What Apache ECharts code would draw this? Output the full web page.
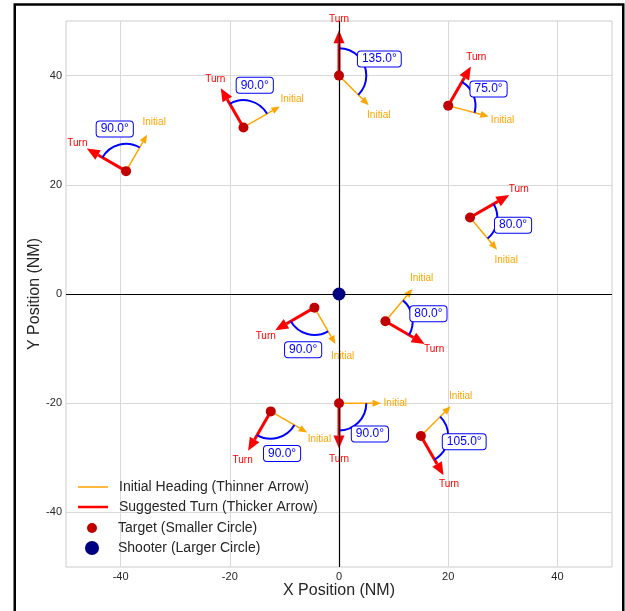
<!DOCTYPE html>
<html>
<head>
<meta charset="utf-8">
<script src="https://cdn.jsdelivr.net/npm/echarts@6/dist/echarts.min.js"></script>
<style>
  html, body { margin: 0; padding: 0; background: #fff; }
  #chart { width: 625px; height: 611px; }
</style>
</head>
<body>
<div id="chart"></div>
<script>
// Target positions (NM)
const targetX = [0, -17.5, -39, 20, 24, -4.5, 8.5, -12.5, 0, 15];
const targetY = [40, 30.5, 22.5, 34.5, 14, -2.5, -5, -21.5, -20, -26];
// Current heading of each target (degrees, counter-clockwise from +X)
const initialHeading = [-45, 30, 60, -15, -50, -60, 50, -30, 0, 45];
// Suggested turn for each target (degrees, + = left / counter-clockwise)
const turnAngle = [135, 90, 90, 75, 80, -90, -80, -90, -90, -105];
// Shooter position
const shooterPos = [0, 0];
// Axis tick labels
const tickValues = [-40, -20, 0, 20, 40];

// Geometry in data units
const INITIAL_LEN = 7.7;
const TURN_LEN = 8.3;
const WORD_DIST = 10.3;
const ARC_R = 5;
const ANGLE_LABEL_DIST = 8;

const FONT = '"Liberation Sans", Arial, sans-serif';
const TEXT_COLOR = '#262626';

const initialData = targetX.map((x, i) => [x, targetY[i], initialHeading[i]]);
const turnData = targetX.map((x, i) => [x, targetY[i], initialHeading[i] + turnAngle[i]]);
const angleData = targetX.map((x, i) => [x, targetY[i], initialHeading[i], turnAngle[i]]);
const targetData = targetX.map((x, i) => [x, targetY[i]]);

function makeArrow(len, lineWidth, headLen, headW, color, word) {
  return function (params, api) {
    const x = api.value(0), y = api.value(1);
    const h = api.value(2) * Math.PI / 180;
    const p0 = api.coord([x, y]);
    const p1 = api.coord([x + len * Math.cos(h), y + len * Math.sin(h)]);
    const pw = api.coord([x + WORD_DIST * Math.cos(h), y + WORD_DIST * Math.sin(h)]);
    const dx = p1[0] - p0[0], dy = p1[1] - p0[1];
    const d = Math.hypot(dx, dy);
    const ux = dx / d, uy = dy / d;
    const bx = p1[0] - ux * headLen, by = p1[1] - uy * headLen;
    return {
      type: 'group',
      children: [
        { type: 'line', shape: { x1: p0[0], y1: p0[1], x2: bx, y2: by },
          style: { stroke: color, lineWidth: lineWidth } },
        { type: 'polygon',
          shape: { points: [p1, [bx - uy * headW / 2, by + ux * headW / 2], [bx + uy * headW / 2, by - ux * headW / 2]] },
          style: { fill: color } },
        { type: 'text', x: pw[0], y: pw[1],
          style: { text: word, fill: color, font: '10px ' + FONT, align: 'center', verticalAlign: 'middle' } }
      ]
    };
  };
}

function renderAngle(params, api) {
  const x = api.value(0), y = api.value(1);
  const a0 = api.value(2), turn = api.value(3);
  const a1 = a0 + turn;
  const c = api.coord([x, y]);
  const r = api.size([ARC_R, 0])[0];
  const mid = (a0 + turn / 2) * Math.PI / 180;
  const pl = api.coord([x + ANGLE_LABEL_DIST * Math.cos(mid), y + ANGLE_LABEL_DIST * Math.sin(mid)]);
  return {
    type: 'group',
    children: [
      { type: 'arc',
        shape: { cx: c[0], cy: c[1], r: r,
                 startAngle: -a0 * Math.PI / 180, endAngle: -a1 * Math.PI / 180,
                 clockwise: turn < 0 },
        style: { stroke: '#0000ff', lineWidth: 2, fill: 'none' } },
      { type: 'text', x: pl[0], y: pl[1], z2: 10,
        style: { text: Math.abs(turn).toFixed(1) + '°', fill: '#0000ff', font: '12px ' + FONT,
                 align: 'center', verticalAlign: 'middle',
                 backgroundColor: '#ffffff', borderColor: '#0000ff', borderWidth: 1,
                 borderRadius: 3, padding: [2, 4, 1, 4] } }
    ]
  };
}

function axisCfg(name, gap) {
  return {
    type: 'value', min: -50, max: 50,
    name: name, nameLocation: 'middle', nameGap: gap, nameMoveOverlap: false,
    nameTextStyle: { fontSize: 16, color: TEXT_COLOR, fontFamily: FONT },
    axisLine: { show: false, onZero: false },
    axisTick: { show: false, customValues: tickValues },
    axisLabel: { customValues: tickValues, fontSize: 11, color: TEXT_COLOR, fontFamily: FONT, margin: 4 },
    splitLine: { show: true, lineStyle: { color: '#d9d9d9', width: 1 } }
  };
}

function legendCfg(name, icon, h, left, top) {
  return {
    data: [{ name: name, icon: icon }],
    left: left, top: top, padding: 0,
    itemWidth: 30, itemHeight: h,
    selectedMode: false,
    textStyle: { fontSize: 14, color: TEXT_COLOR, fontFamily: FONT, padding: [0, 0, 0, 6] }
  };
}

const chart = echarts.init(document.getElementById('chart'), null, { renderer: 'canvas' });
chart.setOption({
  animation: false,
  backgroundColor: '#ffffff',
  textStyle: { fontFamily: FONT },
  grid: { left: 66, right: 13, top: 21, bottom: 44, show: true, borderColor: '#cccccc', borderWidth: 1 },
  xAxis: axisCfg('X Position (NM)', 16),
  yAxis: axisCfg('Y Position (NM)', 23),
  legend: [
    legendCfg('Initial Heading (Thinner Arrow)', 'rect', 1.5, 78, 480),
    legendCfg('Suggested Turn (Thicker Arrow)', 'rect', 2.5, 78, 500),
    legendCfg('Target (Smaller Circle)', 'circle', 10, 87, 521),
    legendCfg('Shooter (Larger Circle)', 'circle', 14, 85, 541)
  ],
  graphic: [{
    type: 'rect', silent: true, z: 100,
    shape: { x: 14.75, y: 4.5, width: 608.5, height: 700 },
    style: { fill: 'none', stroke: '#000000', lineWidth: 2.5 }
  }],
  series: [
    {
      name: 'zero', type: 'scatter', symbol: 'none', data: [shooterPos], z: 1, silent: true,
      markLine: {
        silent: true, symbol: 'none', label: { show: false },
        lineStyle: { color: '#000000', width: 1.2, type: 'solid', opacity: 1 },
        data: [{ xAxis: 0 }, { yAxis: 0 }]
      }
    },
    {
      name: 'Initial Heading (Thinner Arrow)', type: 'custom', z: 3,
      itemStyle: { color: '#ffa500' },
      encode: { x: 0, y: 1 },
      renderItem: makeArrow(INITIAL_LEN, 1.5, 8.5, 7, '#ffa500', 'Initial'),
      data: initialData
    },
    {
      name: 'Suggested Turn (Thicker Arrow)', type: 'custom', z: 3,
      itemStyle: { color: '#ff0000' },
      encode: { x: 0, y: 1 },
      renderItem: makeArrow(TURN_LEN, 3, 13, 11, '#ff0000', 'Turn'),
      data: turnData
    },
    {
      name: 'angles', type: 'custom', z: 4,
      encode: { x: 0, y: 1 },
      renderItem: renderAngle,
      data: angleData
    },
    {
      name: 'Target (Smaller Circle)', type: 'scatter', z: 5,
      symbol: 'circle', symbolSize: 10,
      itemStyle: { color: '#c00000', opacity: 1 },
      data: targetData
    },
    {
      name: 'Shooter (Larger Circle)', type: 'scatter', z: 5,
      symbol: 'circle', symbolSize: 13,
      itemStyle: { color: '#000080', opacity: 1 },
      data: [shooterPos]
    }
  ]
});
</script>
</body>
</html>
